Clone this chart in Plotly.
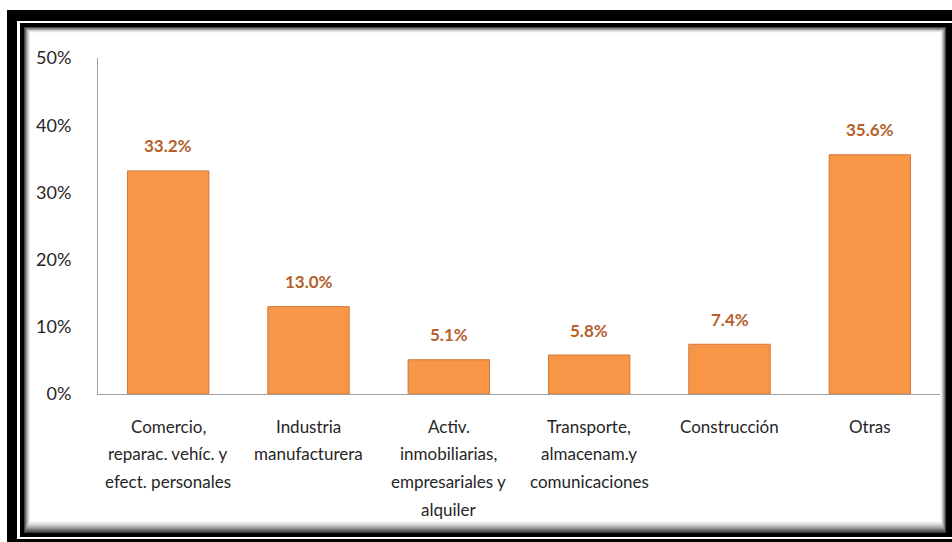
import plotly.graph_objects as go

# data
categories = [
    "Comercio,<br>reparac. vehíc. y<br>efect. personales",
    "Industria<br>manufacturera",
    "Activ.<br>inmobiliarias,<br>empresariales y<br>alquiler",
    "Transporte,<br>almacenam.y<br>comunicaciones",
    "Construcción",
    "Otras",
]
shares = [0.332, 0.130, 0.051, 0.058, 0.074, 0.356]
tick_vals = [0, 0.1, 0.2, 0.3, 0.4, 0.5]

W, H = 952, 542
L, R, T, B = 98, 12, 58, 148  # plot area: x 98..940, y 58..394
PW, PH = W - L - R, H - T - B


def px(x):
    return (x - L) / PW


def py(y):
    return (H - B - y) / PH


def rect(x0, y0, x1, y1, color):
    return dict(type="rect", xref="paper", yref="paper", layer="below",
                x0=px(x0), x1=px(x1), y0=py(y1), y1=py(y0),
                fillcolor=color, line=dict(width=0))


# picture frame: thick black border plus inner shadow
frame = [
    rect(7, 10, 952, 542, "black"),
    rect(17, 21, 952, 539, "white"),
    rect(20, 23, 952, 537, "black"),
]
shadow = ["#3a3a3a", "#5a5a5a", "#777777", "#939393", "#ababab",
          "#c2c2c2", "#d6d6d6", "#e6e6e6", "#f2f2f2", "#ffffff"]
for i, c in enumerate(shadow):
    frame.append(rect(24 + i * 0.7, 27 + i * 0.6, 946 - i * 0.6, 533 - i * 1.3, c))

fig = go.Figure()
fig.add_trace(go.Bar(
    x=categories,
    y=shares,
    marker=dict(color="#F79646", line=dict(color="#D2783A", width=1)),
    hoverinfo="none",
))

for cat, v in zip(categories, shares):
    # value label above each bar
    fig.add_annotation(
        x=cat, y=v, text=f"{v * 100:.1f}%", showarrow=False,
        yanchor="middle", yshift=25,
        font=dict(family="Lato", size=17, color="#B5612B", weight="bold"),
    )
    # category label, one line at a time to get Excel-like line spacing
    for i, line in enumerate(cat.split("<br>")):
        fig.add_annotation(
            x=cat, y=0, text=line, showarrow=False,
            yanchor="middle", yshift=-(32 + i * 27.7),
            font=dict(family="Lato", size=17, color="#262626"),
        )

fig.update_layout(
    width=W, height=H,
    margin=dict(l=L, r=R, t=T, b=B),
    paper_bgcolor="white",
    plot_bgcolor="rgba(0,0,0,0)",
    showlegend=False,
    bargap=0.42,
    shapes=frame,
    font=dict(family="Lato", color="#262626"),
    xaxis=dict(
        showgrid=False, zeroline=False, showline=True,
        linecolor="#A0A0A0", linewidth=1,
        showticklabels=False,
    ),
    yaxis=dict(
        range=[0, 0.5], tickvals=tick_vals, tickformat=".0%",
        showgrid=False, zeroline=False, showline=True,
        linecolor="#A0A0A0", linewidth=1,
        tickfont=dict(family="Lato", size=18, color="#262626"),
        ticklabelstandoff=22,
    ),
)

fig.write_html(
    "out.html",
    config={"displayModeBar": False},
    post_script="document.body.style.margin = '0';",
)
